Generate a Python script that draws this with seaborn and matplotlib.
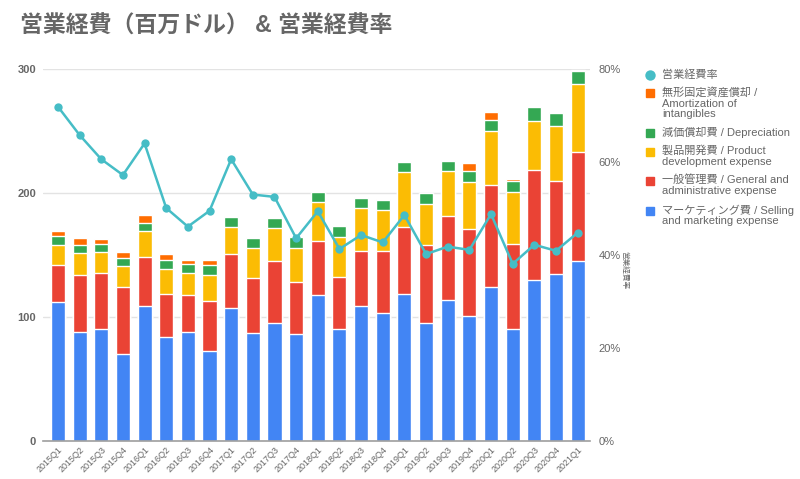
import numpy as np
import pandas as pd
import matplotlib
matplotlib.use("Agg")
import matplotlib.pyplot as plt
import seaborn as sns
from matplotlib.lines import Line2D
from matplotlib.patches import Rectangle

quarters = ["2015Q1", "2015Q2", "2015Q3", "2015Q4", "2016Q1", "2016Q2", "2016Q3", "2016Q4",
            "2017Q1", "2017Q2", "2017Q3", "2017Q4", "2018Q1", "2018Q2", "2018Q3", "2018Q4",
            "2019Q1", "2019Q2", "2019Q3", "2019Q4", "2020Q1", "2020Q2", "2020Q3", "2020Q4",
            "2021Q1"]
selling = [111.8, 88.2, 90.0, 70.2, 109.1, 83.9, 88.2, 72.3, 107.5, 87.4, 94.9, 86.3, 118.0,
           90.3, 108.6, 103.0, 118.8, 94.9, 113.7, 100.8, 124.2, 90.3, 129.8, 134.9, 144.9]
general = [29.8, 45.4, 45.2, 53.7, 39.3, 34.9, 29.5, 40.6, 43.6, 44.3, 50.0, 41.7, 43.3,
           42.0, 44.9, 50.5, 54.0, 63.2, 67.8, 70.2, 82.0, 68.8, 89.0, 74.5, 87.9]
product = [16.2, 17.7, 17.0, 17.0, 21.2, 19.9, 18.1, 20.7, 21.7, 23.7, 26.6, 27.9, 31.4,
           32.5, 34.1, 33.0, 44.1, 32.8, 36.2, 37.9, 43.8, 41.7, 39.3, 44.9, 55.1]
depreciation = [7.8, 6.8, 6.4, 6.4, 6.2, 7.5, 6.7, 8.6, 7.6, 8.0, 8.3, 8.6, 8.1,
                8.6, 8.6, 8.1, 8.4, 8.8, 8.1, 8.6, 8.9, 9.1, 11.0, 10.5, 10.7]
amortization = [3.5, 5.3, 4.3, 5.4, 6.5, 4.9, 3.5, 3.8, 1.1, 0.8, 0.8, 1.1, 0.3,
                0.2, 0.8, 0.8, 0.3, 0.3, 0.8, 6.9, 6.7, 1.1, 0.3, 0.8, 0.2]
ratio = [71.9, 65.8, 60.6, 57.2, 64.0, 50.1, 46.1, 49.5, 60.6, 53.0, 52.5, 43.6, 49.4,
         41.3, 44.3, 42.7, 48.6, 40.2, 41.8, 41.1, 48.8, 38.1, 42.2, 40.9, 44.8]

series_labels = ["マーケティング費 / Selling\nand marketing expense",
                 "一般管理費 / General and\nadministrative expense",
                 "製品開発費 / Product\ndevelopment expense",
                 "減価償却費 / Depreciation",
                 "無形固定資産償却 /\nAmortization of\nintangibles"]
ratio_label = "営業経費率"
title = "営業経費（百万ドル） & 営業経費率"

colors = ["#4285F4", "#EA4335", "#FBBC04", "#34A853", "#FF6D01"]
line_color = "#46BDC6"
text_color = "#666666"

sns.set_theme(style="white")
plt.rcParams["font.family"] = ["Liberation Sans", "Noto Sans CJK JP", "DejaVu Sans"]

fig = plt.figure(figsize=(8.0, 4.79), dpi=100)
ax = fig.add_axes([43 / 800, 1 - 441 / 479, (590 - 43) / 800, (441 - 69) / 479])

layers = [selling, general, product, depreciation, amortization]
cum = np.cumsum(np.array(layers), axis=0)
df = pd.DataFrame({"quarter": quarters})
# draw cumulative totals from top layer down so each visible band is one series
for i in range(len(layers) - 1, -1, -1):
    df["v"] = cum[i]
    sns.barplot(data=df, x="quarter", y="v", color=colors[i], width=0.65,
                saturation=1, ax=ax, zorder=2)

ax.set_ylim(0, 300)
ax.set_yticks([0, 100, 200, 300])
ax.set_xlim(-0.69, 24.57)
ax.grid(axis="y", color="#e3e3e3", linewidth=1, zorder=0)
ax.grid(axis="x", visible=False)
ax.set_axisbelow(True)
for s in ["top", "right", "left"]:
    ax.spines[s].set_visible(False)
ax.spines["bottom"].set_color("#9e9e9e")
ax.spines["bottom"].set_linewidth(1.2)
ax.set_xlabel("")
ax.set_ylabel("")
ax.tick_params(axis="y", length=0, pad=5, labelsize=8, labelcolor=text_color)
ax.tick_params(axis="x", length=0, pad=3, labelsize=6.5, labelcolor=text_color)
for lab in ax.get_yticklabels():
    lab.set_fontweight("bold")
for lab in ax.get_xticklabels():
    lab.set_rotation(45)
    lab.set_ha("right")
    lab.set_rotation_mode("anchor")

ax2 = ax.twinx()
sns.lineplot(x=np.arange(len(quarters)), y=ratio, ax=ax2, color=line_color,
             linewidth=1.8, marker="o", markersize=6, markeredgewidth=0, zorder=5)
ax2.set_ylim(0, 80)
ax2.set_yticks([0, 20, 40, 60, 80])
ax2.set_yticklabels([f"{v}%" for v in [0, 20, 40, 60, 80]])
ax2.tick_params(axis="y", length=0, pad=6, labelsize=8, labelcolor=text_color)
ax2.grid(False)
for s in ["top", "right", "left", "bottom"]:
    ax2.spines[s].set_visible(False)
ax2.set_ylabel(ratio_label, rotation=270, fontsize=5.5, color=text_color, va="center")
ax2.yaxis.set_label_coords((624 - 43) / 547, (441 - 270) / 372)
ax2.set_xlim(-0.69, 24.57)

fig.text(20 / 800, 1 - 26 / 479, title, fontsize=16.5, fontweight="bold",
         color=text_color, va="center", ha="left")

# legend
lx = 650 / 800
tx = 662 / 800
fig.lines.append(Line2D([lx], [1 - 75 / 479], marker="o", markersize=7.5,
                        color=line_color, markeredgewidth=0, transform=fig.transFigure))
fig.text(tx, 1 - 75 / 479, ratio_label, fontsize=8, color=text_color, va="center")
entries = [(4, 93.3), (3, 133.3), (2, 151.7), (1, 180.7), (0, 210.7)]
for idx, yc in entries:
    sz = 8
    fig.patches.append(Rectangle(((lx * 800 - sz / 2) / 800, 1 - (yc + sz / 2) / 479),
                                 sz / 800, sz / 479, color=colors[idx],
                                 transform=fig.transFigure))
    fig.text(tx, 1 - (yc - 6.5) / 479, series_labels[idx], fontsize=8, color=text_color,
             va="top", linespacing=1.12)

fig.savefig("out.png", dpi=100)
